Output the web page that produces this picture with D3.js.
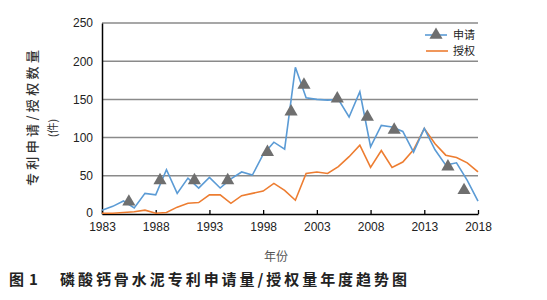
<!DOCTYPE html>
<html lang="zh">
<head>
    <meta charset="UTF-8">
    <script src="https://d3js.org/d3.v7.min.js"></script>
    <style>
        body { margin: 0; background: #fff; }
        text { font-family: "Liberation Sans", Arial, sans-serif; }
        .cjk { font-family: "Noto Sans CJK SC", sans-serif; }
    </style>
</head>
<body>
    <svg id="chart" width="547" height="300"></svg>

    <script>
        // 数据
        const years = d3.range(1983, 2019);
        const applyCounts = [5, 10, 17, 8, 27, 25, 58, 27, 47, 34, 48, 34, 46, 55, 51, 78, 94, 85,
            192, 152, 150, 149, 150, 127, 160, 88, 116, 114, 108, 81, 112, 84, 64, 67, 44, 17];
        const grantCounts = [1, 1, 2, 3, 5, 1, 2, 9, 14, 15, 25, 25, 14, 24, 27, 30, 40, 31,
            18, 53, 55, 53, 62, 75, 90, 61, 83, 61, 68, 84, 112, 92, 77, 74, 67, 55];
        // 三角标记位置
        const markerYears = [1985.5, 1988.4, 1991.6, 1994.7, 1998.4, 2000.6, 2001.8, 2004.9, 2007.7, 2010.2, 2015.2, 2016.7];
        const markerValues = [16, 44, 44, 44, 81, 134, 169, 151, 127, 110, 62, 31];
        const xTicks = [1983, 1988, 1993, 1998, 2003, 2008, 2013, 2018];
        const yTicks = [0, 50, 100, 150, 200, 250];
        const seriesNames = ["申请", "授权"];

        const svg = d3.select("#chart");
        const margin = { top: 23, right: 69, bottom: 86, left: 102 };
        const width = 547, height = 300;

        const x = d3.scaleLinear().domain([1983, 2018]).range([margin.left, width - margin.right]);
        const y = d3.scaleLinear().domain([0, 250]).range([height - margin.bottom, margin.top]);

        const blue = "#5b9bd5", orange = "#ed7d31", gray = "#6f6f6f";

        // 网格线
        svg.append("g")
            .selectAll("line")
            .data(yTicks.filter(d => d > 0))
            .enter().append("line")
            .attr("x1", x(1983)).attr("x2", x(2018))
            .attr("y1", d => y(d)).attr("y2", d => y(d))
            .attr("stroke", "#8a8a8a")
            .attr("stroke-width", 1.5);

        // Y轴
        const yAxis = svg.append("g")
            .attr("transform", `translate(${margin.left},0)`)
            .call(d3.axisLeft(y).tickValues(yTicks).tickSize(0).tickPadding(9));
        yAxis.select(".domain").attr("stroke", "#000").attr("stroke-width", 1.5);
        yAxis.selectAll("text").style("font-size", "12px").attr("fill", "#222");
        yAxis.selectAll(".tick").filter(d => d === 0).select("text").attr("dy", "0.2em");

        // X轴
        const xAxis = svg.append("g")
            .attr("transform", `translate(0,${y(0)})`)
            .call(d3.axisBottom(x).tickValues(xTicks).tickFormat(d3.format("d")).tickSize(-4).tickPadding(8).tickSizeOuter(0));
        xAxis.select(".domain").attr("stroke", "#000").attr("stroke-width", 1.5);
        xAxis.selectAll(".tick line").attr("stroke", "#000").attr("stroke-width", 1.3);
        xAxis.selectAll("text").style("font-size", "12px").attr("fill", "#222");

        // 折线
        const line = d3.line().x((d, i) => x(years[i])).y(d => y(d));

        svg.append("path")
            .datum(grantCounts)
            .attr("d", line)
            .attr("fill", "none")
            .attr("stroke", orange)
            .attr("stroke-width", 1.6);

        svg.append("path")
            .datum(applyCounts)
            .attr("d", line)
            .attr("fill", "none")
            .attr("stroke", blue)
            .attr("stroke-width", 1.6);

        const tri = d3.symbol().type(d3.symbolTriangle).size(75);
        svg.selectAll(".marker")
            .data(markerYears)
            .enter().append("path")
            .attr("class", "marker")
            .attr("d", tri)
            .attr("transform", (d, i) => `translate(${x(d)},${y(markerValues[i])})`)
            .attr("fill", gray);

        // 图例
        const legend = svg.append("g").attr("class", "cjk");
        legend.append("line").attr("x1", 425).attr("x2", 447).attr("y1", 35).attr("y2", 35)
            .attr("stroke", blue).attr("stroke-width", 1.6);
        legend.append("path").attr("d", tri).attr("transform", "translate(436,35)").attr("fill", gray);
        legend.append("line").attr("x1", 426).attr("x2", 448).attr("y1", 51).attr("y2", 51)
            .attr("stroke", orange).attr("stroke-width", 1.6);
        legend.selectAll(".ltext")
            .data(seriesNames)
            .enter().append("text")
            .attr("class", "cjk")
            .attr("x", 453)
            .attr("y", (d, i) => 35 + i * 16)
            .attr("dy", "0.35em")
            .style("font-size", "11px")
            .attr("fill", "#222")
            .text(d => d);

        // 轴标题
        svg.append("text")
            .attr("class", "cjk")
            .attr("transform", "translate(37,118) rotate(-90)")
            .attr("text-anchor", "middle")
            .attr("textLength", 136)
            .attr("lengthAdjust", "spacing")
            .style("font-size", "13px")
            .style("font-weight", "500")
            .attr("fill", "#333")
            .text("专利申请/授权数量");
        svg.append("text")
            .attr("class", "cjk")
            .attr("transform", "translate(57,128) rotate(-90)")
            .attr("text-anchor", "middle")
            .style("font-size", "11px")
            .attr("fill", "#333")
            .text("(件)");

        svg.append("text")
            .attr("class", "cjk")
            .attr("x", 276)
            .attr("y", 261)
            .attr("text-anchor", "middle")
            .style("font-size", "12px")
            .attr("fill", "#555")
            .text("年份");

        // 图题
        const caption = svg.append("g")
            .attr("class", "cjk")
            .style("font-size", "15px")
            .style("font-weight", "bold")
            .attr("fill", "#222");
        caption.append("text").attr("class", "cjk").attr("x", 9).attr("y", 285).text("图");
        caption.append("text").attr("class", "cjk").attr("x", 29).attr("y", 285).text("1");
        caption.append("text")
            .attr("class", "cjk")
            .attr("x", 60)
            .attr("y", 285)
            .attr("textLength", 347)
            .attr("lengthAdjust", "spacing")
            .text("磷酸钙骨水泥专利申请量/授权量年度趋势图");
    </script>
</body>
</html>
